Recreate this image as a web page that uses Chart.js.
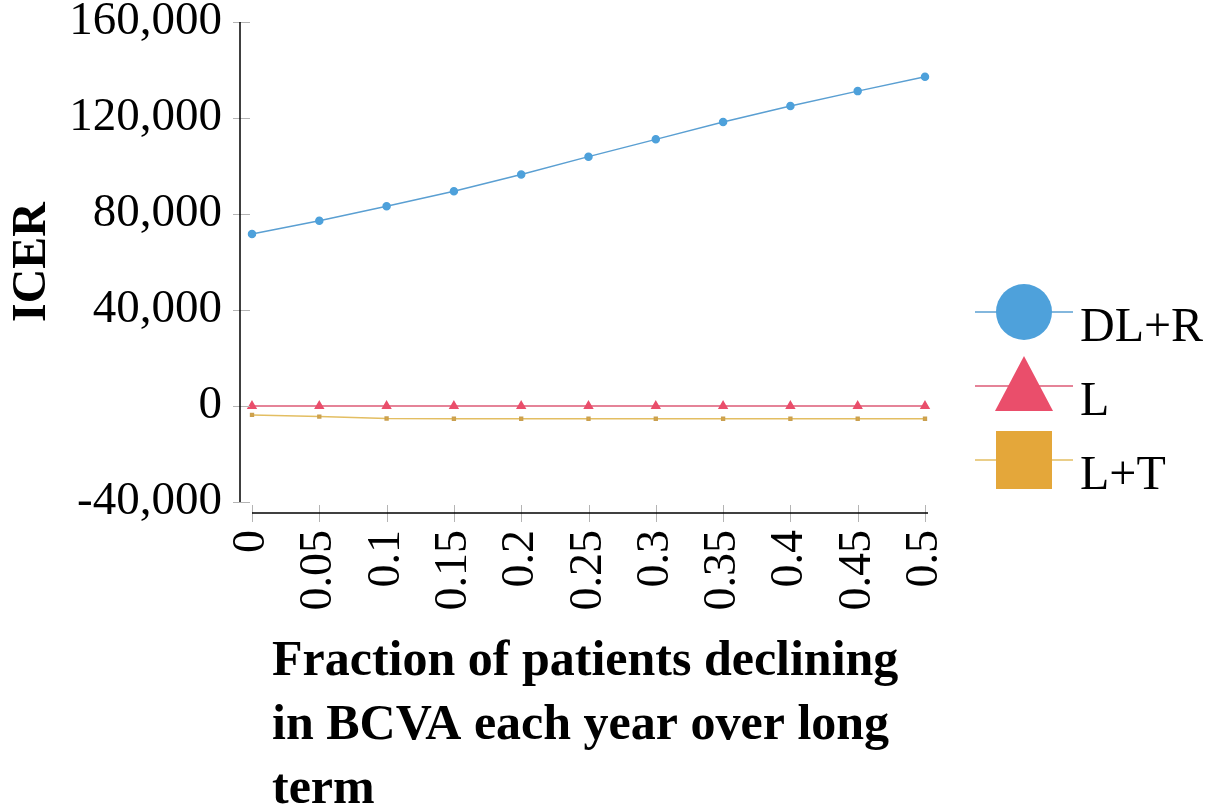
<!DOCTYPE html>
<html>
<head>
<meta charset="utf-8">
<script src="https://cdn.jsdelivr.net/npm/chart.js@4.4.1/dist/chart.umd.min.js"></script>
<style>
  html, body { margin: 0; padding: 0; background: #fff; }
  #wrap { width: 1221px; height: 810px; }
</style>
</head>
<body>
<div id="wrap"><canvas id="chart"></canvas></div>
<script>
const fractions = ['0', '0.05', '0.1', '0.15', '0.2', '0.25', '0.3', '0.35', '0.4', '0.45', '0.5'];
const dlrValues = [71700, 77200, 83200, 89500, 96500, 103900, 111100, 118300, 125000, 131200, 137200];
const lValues = [0, 0, 0, 0, 0, 0, 0, 0, 0, 0, 0];
const ltValues = [-3700, -4400, -5200, -5300, -5300, -5300, -5300, -5300, -5300, -5300, -5300];
const yTicks = [-40000, 0, 40000, 80000, 120000, 160000];
const xTitleLines = ['Fraction of patients declining', 'in BCVA each year over long', 'term'];

const serif = "'Liberation Serif', 'Times New Roman', serif";

// axis lines sit a little away from the plot, and the legend draws a line through big markers
const axesAndLegend = {
  id: 'axesAndLegend',
  afterDraw(chart) {
    const { ctx, chartArea, scales: { x, y } } = chart;
    const axisX = chartArea.left - 12;
    const axisY = chartArea.bottom + 11;
    const line = (x1, y1, x2, y2) => { ctx.beginPath(); ctx.moveTo(x1, y1); ctx.lineTo(x2, y2); ctx.stroke(); };
    ctx.save();

    ctx.strokeStyle = '#b4b4b4';
    ctx.lineWidth = 1;
    y.ticks.forEach(t => {
      const py = Math.round(y.getPixelForValue(t.value)) + 0.5;
      line(axisX - 7, py, axisX + 10, py);
    });
    x.ticks.forEach((t, i) => {
      const px = Math.round(x.getPixelForTick(i)) + 0.5;
      line(px, axisY - 8, px, axisY + 9);
    });

    ctx.strokeStyle = '#000';
    ctx.lineWidth = 1.5;
    line(axisX, y.top, axisX, y.bottom);
    line(x.getPixelForTick(0), axisY, x.getPixelForTick(x.ticks.length - 1) + 3, axisY);

    ctx.fillStyle = '#000';
    ctx.font = 'bold 50px ' + serif;
    ctx.textAlign = 'left';
    ctx.textBaseline = 'alphabetic';
    xTitleLines.forEach((s, i) => ctx.fillText(s, chartArea.left + 20, axisY + 162 + i * 64));

    const lx = 1024;
    chart.data.datasets.forEach((ds, i) => {
      const cy = 312 + i * 74;
      ctx.strokeStyle = ds.borderColor;
      ctx.lineWidth = 1.5;
      line(lx - 49, cy, lx + 49, cy);
      ctx.fillStyle = ds.pointBackgroundColor;
      ctx.beginPath();
      if (ds.pointStyle === 'circle') {
        ctx.arc(lx, cy, 28, 0, Math.PI * 2);
      } else if (ds.pointStyle === 'triangle') {
        ctx.moveTo(lx, cy - 30);
        ctx.lineTo(lx + 29, cy + 25);
        ctx.lineTo(lx - 29, cy + 25);
        ctx.closePath();
      } else {
        ctx.rect(lx - 28, cy - 29, 56, 58);
      }
      ctx.fill();
      ctx.fillStyle = '#000';
      ctx.font = '48px ' + serif;
      ctx.fillText(ds.label, 1080, cy + 29);
    });
    ctx.restore();
  }
};

new Chart(document.getElementById('chart'), {
  type: 'line',
  data: {
    labels: fractions,
    datasets: [
      {
        label: 'DL+R',
        data: dlrValues,
        borderColor: '#5a9fd2',
        pointBackgroundColor: '#4ea1db',
        pointBorderColor: '#4ea1db',
        pointStyle: 'circle',
        pointRadius: 3.5,
        borderWidth: 1.5,
      },
      {
        label: 'L',
        data: lValues,
        borderColor: '#dc5a76',
        pointBackgroundColor: '#ea4e6b',
        pointBorderColor: '#ea4e6b',
        pointStyle: 'triangle',
        pointRadius: 4.5,
        borderWidth: 1.5,
      },
      {
        label: 'L+T',
        data: ltValues,
        borderColor: '#e3be62',
        pointBackgroundColor: '#e4a73a',
        pointBorderColor: '#c9a050',
        pointStyle: 'rect',
        pointRadius: 2,
        borderWidth: 1.5,
      },
    ],
  },
  options: {
    responsive: true,
    maintainAspectRatio: false,
    animation: false,
    layout: { padding: { top: 0, right: 296, bottom: 0, left: 0 } },
    plugins: {
      legend: { display: false },
      tooltip: { enabled: false },
    },
    scales: {
      x: {
        type: 'category',
        offset: false,
        grid: { display: false, drawTicks: false },
        border: { display: false },
        ticks: {
          autoSkip: false,
          minRotation: 90,
          maxRotation: 90,
          padding: 28,
          color: '#000',
          font: { family: serif, size: 46 },
        },
        afterFit: (s) => { s.height = 308; },
      },
      y: {
        min: -40000,
        max: 160000,
        afterBuildTicks: (s) => { s.ticks = yTicks.map(v => ({ value: v })); },
        grid: { display: false, drawTicks: false },
        border: { display: false },
        ticks: {
          padding: 30,
          color: '#000',
          font: { family: serif, size: 47, lineHeight: 1 },
        },
        title: {
          display: true,
          text: 'ICER',
          color: '#000',
          padding: 4,
          font: { family: serif, size: 48, weight: 'bold' },
        },
        afterFit: (s) => {
          s.width = 252;
          // tick padding is only meant sideways here
          s.paddingTop = 22;
          s.paddingBottom = 22;
        },
      },
    },
  },
  plugins: [axesAndLegend],
});
</script>
</body>
</html>
